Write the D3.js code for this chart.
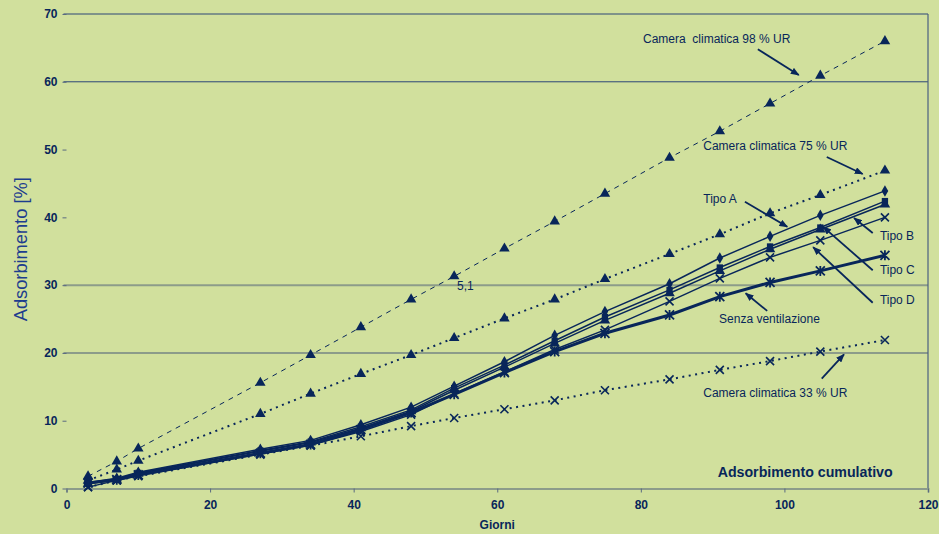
<!DOCTYPE html>
<html><head><meta charset="utf-8">
<script src="https://cdn.jsdelivr.net/npm/d3@7/dist/d3.min.js"></script>
<style>
html,body{margin:0;padding:0;background:#d1e09d;}
svg{display:block;font-family:"Liberation Sans",Arial,sans-serif;}
</style></head>
<body>
<svg id="chart" width="939" height="534"></svg>
<script>
// ---- data ----
const days   = [3,7,10,27,34,41,48,54,61,68,75,84,91,98,105,114];
const cc98   = [1.8,4.0,5.9,15.6,19.7,23.8,27.9,31.3,35.4,39.4,43.5,48.8,52.7,56.8,60.9,66.0];
const cc75   = [1.2,2.8,4.1,11.0,14.0,16.9,19.7,22.2,25.1,27.9,30.9,34.6,37.5,40.6,43.3,46.9];
const cc33   = [0.2,1.2,1.8,5.0,6.3,7.7,9.2,10.4,11.7,13.0,14.5,16.1,17.5,18.8,20.2,21.9];
const tipoA  = [0.9,1.5,2.4,5.8,7.1,9.4,12.0,15.1,18.7,22.6,26.1,30.2,34.0,37.2,40.3,43.9];
const tipoB  = [0.8,1.4,2.3,5.6,6.9,9.1,11.6,14.8,18.2,21.8,25.3,29.3,32.6,35.7,38.5,42.4];
const tipoC  = [0.7,1.3,2.2,5.5,6.8,8.9,11.4,14.5,17.9,21.4,24.8,28.8,32.1,35.3,38.2,41.9];
const tipoD  = [0.2,1.2,1.9,5.1,6.4,8.4,10.9,14.0,17.2,20.5,23.4,27.6,31.0,34.1,36.6,40.0];
const senza  = [0.8,1.3,2.0,5.2,6.5,8.7,11.2,13.9,17.1,20.2,22.9,25.6,28.3,30.4,32.1,34.4];
const xTicks = [0,20,40,60,80,100,120];
const yTicks = [0,10,20,30,40,50,60,70];
const gridGray = [20,30];
const gridDark = [60,70];
const xTitle = "Giorni";
const yTitle = "Adsorbimento [%]";
const chartTitle = "Adsorbimento cumulativo";
// annotations: text anchor and arrow in data coordinates (day, %)
const annLabels = ["Camera  climatica 98 % UR","Camera climatica 75 % UR","Tipo A","Tipo B","Tipo C","Tipo D","Senza ventilazione","Camera climatica 33 % UR"];
const annText   = [[80.3,65.7],[88.7,49.9],[88.7,42.1],[113.3,36.7],[113.3,31.6],[113.3,27.2],[90.9,24.4],[88.7,13.5]];
const annFrom   = [[96.3,64.8],[105.9,48.9],[94.5,42.3],[112.3,37.7],[112.3,32.2],[112.3,27.4],[97.6,26.2],[105.2,16.2]];
const annTo     = [[102.0,61.0],[110.9,46.4],[100.4,38.6],[109.7,39.9],[105.4,38.6],[104.0,35.6],[94.6,28.8],[108.3,19.8]];
const noteText = "5,1"; const notePos = [54.4, 29.3];

// ---- drawing ----
const navy = "#08265a";
const svg = d3.select("#chart");
const x = d3.scaleLinear().domain([0,120]).range([66.5,928]);
const y = d3.scaleLinear().domain([0,70]).range([488.5,14]);

svg.append("rect").attr("width",939).attr("height",534).attr("fill","#d1e09d");

// grid lines
svg.selectAll(".gg").data(gridGray).enter().append("line")
  .attr("x1",x(0)-3).attr("x2",x(120)).attr("y1",d=>y(d)).attr("y2",d=>y(d))
  .attr("stroke","#8c9c8a").attr("stroke-width",2);
svg.selectAll(".gd").data(gridDark).enter().append("line")
  .attr("x1",x(0)-3).attr("x2",x(120)).attr("y1",d=>y(d)).attr("y2",d=>y(d))
  .attr("stroke","#2c4677").attr("stroke-width",1);
// right border
svg.append("line").attr("x1",x(120)).attr("x2",x(120)).attr("y1",y(70)).attr("y2",y(0))
  .attr("stroke","#4a5f80").attr("stroke-width",1.2);

// y axis
const ya = svg.append("g").attr("transform",`translate(${x(0)},0)`)
  .call(d3.axisLeft(y).tickValues(yTicks).tickSize(4).tickPadding(5).tickFormat(d3.format("d")));
ya.select(".domain").remove();
ya.selectAll("line").attr("stroke","#5a6a80");
ya.selectAll("text").attr("fill",navy).attr("font-size",12).attr("font-weight","bold")
  .attr("font-family","Liberation Sans, Arial, sans-serif");

// x axis
const xa = svg.append("g").attr("transform",`translate(0,${y(0)})`)
  .call(d3.axisBottom(x).tickValues(xTicks).tickSize(4).tickPadding(8).tickFormat(d3.format("d")));
xa.select(".domain").attr("stroke","#8c9c8a").attr("stroke-width",2);
xa.selectAll("line").attr("stroke","#5a6a80");
xa.selectAll("text").attr("fill",navy).attr("font-size",12).attr("font-weight","bold")
  .attr("font-family","Liberation Sans, Arial, sans-serif");

// titles
svg.append("text").attr("x",x(60)).attr("y",529).attr("text-anchor","middle")
  .attr("fill",navy).attr("font-size",12).attr("font-weight","bold").text(xTitle);
svg.append("text").attr("transform",`translate(27,${y(35)-2}) rotate(-90)`).attr("text-anchor","middle")
  .attr("fill","#1d3d8e").attr("font-size",18).attr("textLength",144).attr("lengthAdjust","spacingAndGlyphs").text(yTitle);
svg.append("text").attr("x",x(90.7)).attr("y",y(1.7)).attr("fill",navy).attr("font-size",14)
  .attr("font-weight","bold").attr("textLength",175).attr("lengthAdjust","spacingAndGlyphs").text(chartTitle);

// series
const mk = arr => days.map((d,i)=>[d,arr[i]]);
const line = d3.line().x(d=>x(d[0])).y(d=>y(d[1]));
const series = [
  {v:cc98, w:1, dash:"5,5", m:"tri"},
  {v:cc75, w:2, dash:"2,4.5", m:"tri"},
  {v:cc33, w:2, dash:"2,4.5", m:"x"},
  {v:tipoD, w:1.5, dash:null, m:"x"},
  {v:tipoC, w:1.5, dash:null, m:"tri"},
  {v:tipoB, w:1.5, dash:null, m:"sq"},
  {v:tipoA, w:1.5, dash:null, m:"dia"},
  {v:senza, w:3, dash:null, m:"ast"}
];
const sym = {
  tri: d3.symbol().type(d3.symbolTriangle).size(48)(),
  sq:  d3.symbol().type(d3.symbolSquare).size(40)(),
  dia: d3.symbol().type(d3.symbolDiamond).size(38)()
};
series.forEach(s=>{
  const pts = mk(s.v);
  svg.append("path").attr("d",line(pts)).attr("fill","none").attr("stroke",navy)
    .attr("stroke-width",s.w).attr("stroke-dasharray",s.dash);
  const g = svg.append("g");
  pts.forEach(p=>{
    const cx=x(p[0]), cy=y(p[1]);
    if(s.m==="x"){
      g.append("path").attr("d",`M${cx-4},${cy-4}L${cx+4},${cy+4}M${cx-4},${cy+4}L${cx+4},${cy-4}`)
        .attr("stroke",navy).attr("stroke-width",1.6).attr("fill","none");
    } else if(s.m==="ast"){
      g.append("path").attr("d",`M${cx-4.5},${cy-4.5}L${cx+4.5},${cy+4.5}M${cx-4.5},${cy+4.5}L${cx+4.5},${cy-4.5}M${cx},${cy-5}L${cx},${cy+5}`)
        .attr("stroke",navy).attr("stroke-width",1.8).attr("fill","none");
    } else {
      g.append("path").attr("d",sym[s.m]).attr("transform",`translate(${cx},${cy})`).attr("fill",navy);
    }
  });
});

// arrowhead
svg.append("defs").append("marker").attr("id","ah").attr("viewBox","0 0 10 8")
  .attr("refX",9).attr("refY",4).attr("markerWidth",9).attr("markerHeight",7)
  .attr("markerUnits","userSpaceOnUse").attr("orient","auto")
  .append("path").attr("d","M0,0L10,4L0,8z").attr("fill",navy);

annLabels.forEach((t,i)=>{
  svg.append("text").attr("x",x(annText[i][0])).attr("y",y(annText[i][1]))
    .attr("fill",navy).attr("font-size",12).attr("xml:space","preserve").style("white-space","pre").text(t);
  svg.append("line").attr("x1",x(annFrom[i][0])).attr("y1",y(annFrom[i][1]))
    .attr("x2",x(annTo[i][0])).attr("y2",y(annTo[i][1]))
    .attr("stroke",navy).attr("stroke-width",1.8).attr("marker-end","url(#ah)");
});
svg.append("text").attr("x",x(notePos[0])).attr("y",y(notePos[1])).attr("fill",navy)
  .attr("font-size",12).text(noteText);
</script>
</body></html>
